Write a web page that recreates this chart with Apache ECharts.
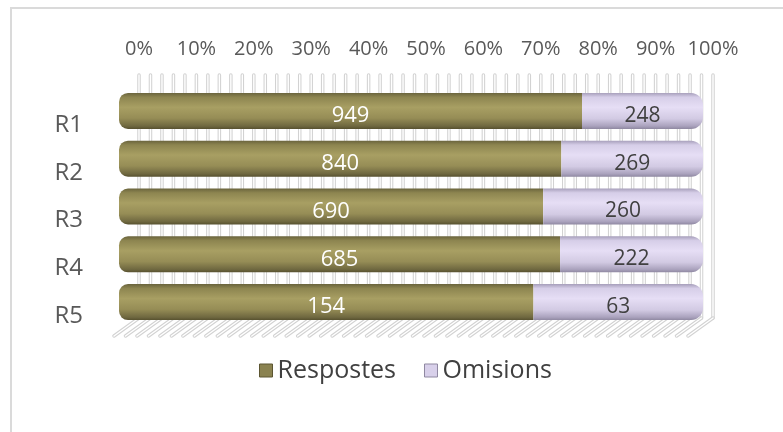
<!DOCTYPE html>
<html>
<head>
<meta charset="utf-8">
<script src="https://cdn.jsdelivr.net/npm/echarts@6/dist/echarts.min.js"></script>
<style>
html,body{margin:0;padding:0;background:#fff;overflow:hidden;}
#frame{position:absolute;left:10px;top:7px;width:820px;height:460px;border:2px solid #dadada;box-sizing:border-box;}
#chart{position:absolute;left:0;top:0;width:783px;height:432px;}
</style>
</head>
<body>
<div id="frame"></div>
<div id="chart"></div>
<script>
const categories = ['R1', 'R2', 'R3', 'R4', 'R5'];
const respostes = [949, 840, 690, 685, 154];
const omisions = [248, 269, 260, 222, 63];
const seriesNames = ['Respostes', 'Omisions'];
const wallTicks = [0, 2, 4, 6, 8, 10, 12, 14, 16, 18, 20, 22, 24, 26, 28, 30, 32, 34, 36, 38, 40,
  42, 44, 46, 48, 50, 52, 54, 56, 58, 60, 62, 64, 66, 68, 70, 72, 74, 76, 78, 80,
  82, 84, 86, 88, 90, 92, 94, 96, 98, 100];

const totals = respostes.map((v, i) => v + omisions[i]);
const respPct = respostes.map((v, i) => v / totals[i] * 100);
const omiPct = omisions.map((v, i) => v / totals[i] * 100);

const chart = echarts.init(document.getElementById('chart'), null, {renderer: 'canvas'});

const oliveGrad = new echarts.graphic.LinearGradient(0, 0, 0, 1, [
  {offset: 0, color: '#6a643d'},
  {offset: 0.12, color: '#8d8550'},
  {offset: 0.4, color: '#a89f63'},
  {offset: 0.7, color: '#968d56'},
  {offset: 0.92, color: '#6f6840'},
  {offset: 1, color: '#57512f'}
]);
const purpleGrad = new echarts.graphic.LinearGradient(0, 0, 0, 1, [
  {offset: 0, color: '#a79fbb'},
  {offset: 0.12, color: '#d6cee8'},
  {offset: 0.4, color: '#e6def5'},
  {offset: 0.72, color: '#d2cae3'},
  {offset: 0.92, color: '#aaa2bd'},
  {offset: 1, color: '#8f88a1'}
]);

function tube(x1, y1, x2, y2) {
  return [
    {type: 'line', shape: {x1, y1, x2, y2}, style: {stroke: '#d2d2d2', lineWidth: 3.5, lineCap: 'round'}},
    {type: 'line', shape: {x1, y1, x2, y2}, style: {stroke: '#ffffff', lineWidth: 1.4, lineCap: 'round'}}
  ];
}

const option = {
  animation: false,
  backgroundColor: 'transparent',
  textStyle: {fontFamily: '"Open Sans", "Liberation Sans", sans-serif'},
  grid: [
    {left: 119, right: 80, top: 87, bottom: 106},
    {left: 139, right: 70, top: 75, bottom: 114},
    {left: 119, right: 80, top: 101, bottom: 92}
  ],
  legend: {
    left: 254,
    top: 353,
    itemWidth: 13,
    itemHeight: 13,
    itemGap: 28,
    icon: 'rect',
    textStyle: {fontSize: 25, color: '#404040', fontFamily: '"Open Sans", sans-serif'},
    data: [
      {name: seriesNames[0], itemStyle: {color: '#8a8250', borderColor: '#5c5632', borderWidth: 1}},
      {name: seriesNames[1], itemStyle: {color: '#d8d0ea', borderColor: '#8f88a1', borderWidth: 1}}
    ]
  },
  xAxis: [
    {gridIndex: 0, type: 'value', min: 0, max: 100, show: false},
    {
      gridIndex: 1, type: 'value', position: 'top', min: 0, max: 100, interval: 10,
      axisLine: {show: false}, axisTick: {show: false}, splitLine: {show: false},
      axisLabel: {margin: 16, fontSize: 20, color: '#595959', formatter: '{value}%'}
    },
    {gridIndex: 2, type: 'value', min: 0, max: 100, show: false}
  ],
  yAxis: [
    {gridIndex: 0, type: 'category', data: categories, inverse: true, show: false},
    {gridIndex: 1, type: 'value', min: 0, max: 1, show: false},
    {
      gridIndex: 2, type: 'category', data: categories, inverse: true,
      axisLine: {show: false}, axisTick: {show: false}, splitLine: {show: false},
      axisLabel: {fontSize: 24, color: '#595959', margin: 36}
    }
  ],
  series: [
    {
      name: 'wall', type: 'custom', xAxisIndex: 1, yAxisIndex: 1, z: 1, silent: true,
      data: wallTicks,
      encode: {x: 0},
      clip: false,
      renderItem: function (params, api) {
        const v = api.value(0);
        const top = api.coord([v, 1]);
        const bot = api.coord([v, 0]);
        return {
          type: 'group',
          children: tube(top[0], top[1], bot[0], bot[1]).concat(
            tube(bot[0], bot[1], bot[0] - 25, bot[1] + 18))
        };
      }
    },
    {
      name: seriesNames[0], type: 'bar', stack: 'total', xAxisIndex: 0, yAxisIndex: 0,
      data: respPct, barWidth: 36, z: 3,
      itemStyle: {color: oliveGrad, borderRadius: [9, 0, 0, 9]},
      label: {
        show: true, position: 'inside', offset: [0, 5], fontSize: 22, color: '#ffffff',
        formatter: p => respostes[p.dataIndex]
      }
    },
    {
      name: seriesNames[1], type: 'bar', stack: 'total', xAxisIndex: 0, yAxisIndex: 0,
      data: omiPct, barWidth: 36, z: 3,
      itemStyle: {color: purpleGrad, borderRadius: [0, 12, 12, 0]},
      label: {
        show: true, position: 'inside', offset: [0, 5], fontSize: 21, color: '#404040',
        formatter: p => omisions[p.dataIndex]
      }
    }
  ]
};
chart.setOption(option);
</script>
</body>
</html>
